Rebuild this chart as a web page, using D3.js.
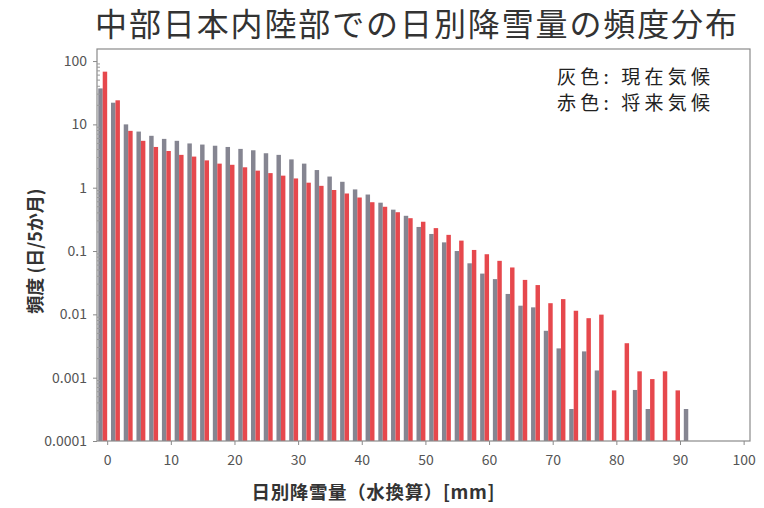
<!DOCTYPE html>
<html><head><meta charset="utf-8">
<script src="https://cdn.jsdelivr.net/npm/d3@7"></script>
<style>body{margin:0;background:#fff}svg{display:block}</style>
</head><body>
<svg id="c" width="764" height="508"></svg>
<script>
const binsMM = d3.range(0, 93, 2);
const current = [37,22,10,7.7,6.6,5.9,5.5,5.0,4.8,4.6,4.4,4.1,3.9,3.5,3.3,2.8,2.4,1.9,1.5,1.24,0.94,0.78,0.58,0.45,0.36,0.24,0.186,0.137,0.1,0.064,0.044,0.036,0.021,0.0137,0.0129,0.0055,0.0029,0.00032,0.0026,0.0013,null,null,0.00064,0.00032,null,null,0.00032];
const future = [68,24,7.9,5.5,4.4,3.8,3.3,3.1,2.7,2.4,2.3,2.1,1.86,1.7,1.55,1.4,1.2,1.07,0.92,0.81,0.70,0.59,0.50,0.41,0.33,0.29,0.23,0.18,0.146,0.104,0.089,0.07,0.055,0.035,0.029,0.015,0.0174,0.0114,0.0087,0.0099,0.00063,0.0035,0.00126,0.00095,0.00126,0.00063,null];
const xTicks = [0,10,20,30,40,50,60,70,80,90,100];
const yTicks = [0.0001,0.001,0.01,0.1,1,10,100];
const yTickLabels = ["0.0001","0.001","0.01","0.1","1","10","100"];
const titleText = "中部日本内陸部での日別降雪量の頻度分布";
const xTitle = "日別降雪量（水換算）[mm]";
const yTitle = "頻度 (日/5か月)";
const legendLines = ["灰色: 現在気候", "赤色: 将来気候"];

const svg = d3.select("#c");
const L = 97, R = 750, T = 49, B = 441;
const x = d3.scaleLinear().domain([-1.6, 101]).range([L, R]);
const y = d3.scaleLog().domain([1e-4, 155]).range([B, T]);
const font = "'Noto Sans CJK JP', 'Noto Sans', sans-serif";
const grayC = "#858591", redC = "#e6484d";
const bw = 0.7;

// bars
const g = svg.append("g");
g.selectAll("rect.cur").data(binsMM.map((b,i)=>({b, v: current[i]})).filter(d=>d.v!=null))
  .join("rect").attr("class","cur")
  .attr("x", d=>x(d.b-1.05-bw/2)).attr("width", x(bw)-x(0))
  .attr("y", d=>y(d.v)).attr("height", d=>B-y(d.v)).attr("fill", grayC);
g.selectAll("rect.fut").data(binsMM.map((b,i)=>({b, v: future[i]})).filter(d=>d.v!=null))
  .join("rect").attr("class","fut")
  .attr("x", d=>x(d.b-0.35-bw/2)).attr("width", x(bw)-x(0))
  .attr("y", d=>y(d.v)).attr("height", d=>B-y(d.v)).attr("fill", redC);

// frame
svg.append("rect").attr("x",L).attr("y",T).attr("width",R-L).attr("height",B-T)
  .attr("fill","none").attr("stroke","#8a8a8a").attr("stroke-width",1.2);

// y axis
const yAxis = d3.axisLeft(y).tickValues(yTicks).tickFormat((d,i)=>yTickLabels[i]).tickSize(4).tickPadding(6);
const ya = svg.append("g").attr("transform",`translate(${L},0)`).call(yAxis);
ya.select(".domain").remove();
ya.selectAll("line").attr("stroke","#8a8a8a");
ya.selectAll("text").attr("font-family",font).attr("font-size",14).attr("fill","#555");
// minor y ticks
const minor = [];
for (let e=-4;e<2;e++) for (let m=2;m<10;m++) minor.push(m*Math.pow(10,e));
svg.append("g").selectAll("line").data(minor).join("line")
  .attr("x1",L).attr("x2",L+3).attr("y1",d=>y(d)).attr("y2",d=>y(d)).attr("stroke","#999");

// x axis
const xAxis = d3.axisBottom(x).tickValues(xTicks).tickSize(4).tickPadding(10);
const xa = svg.append("g").attr("transform",`translate(0,${B})`).call(xAxis);
xa.select(".domain").remove();
xa.selectAll("line").attr("stroke","#8a8a8a");
xa.selectAll("text").attr("font-family",font).attr("font-size",14).attr("fill","#555");

// titles
svg.append("text").attr("x",416).attr("y",36).attr("text-anchor","middle")
  .attr("font-family",font).attr("font-size",32).attr("fill","#333")
  .attr("textLength",642).attr("lengthAdjust","spacing").text(titleText);
svg.append("text").attr("x",373).attr("y",499).attr("text-anchor","middle")
  .attr("font-family",font).attr("font-size",18.5).attr("font-weight","bold").attr("fill","#333")
  .attr("textLength",243).attr("lengthAdjust","spacing").text(xTitle);
svg.append("text").attr("transform","translate(42,251) rotate(-90)").attr("text-anchor","middle")
  .attr("font-family",font).attr("font-size",18).attr("font-weight","bold").attr("fill","#333")
  .text(yTitle);
svg.append("g").selectAll("text").data(legendLines).join("text")
  .attr("x",557).attr("y",(d,i)=>84+i*26)
  .attr("font-family",font).attr("font-size",19).attr("fill","#222")
  .attr("textLength",153).attr("lengthAdjust","spacing").text(d=>d);
</script>
</body></html>
